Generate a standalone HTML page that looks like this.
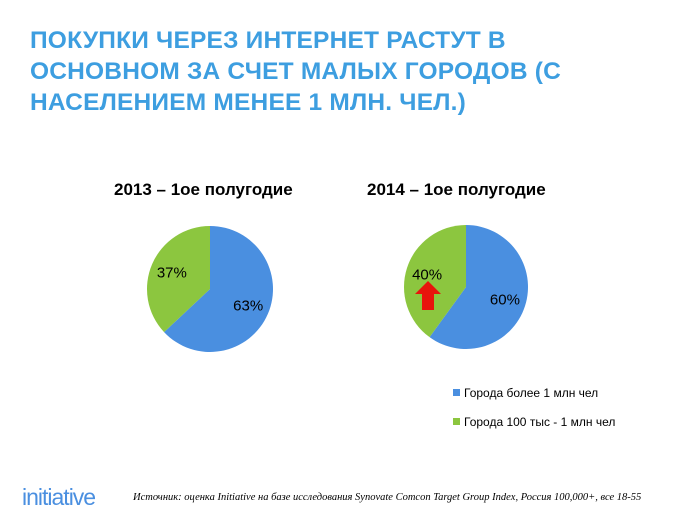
<!DOCTYPE html>
<html><head><meta charset="utf-8"><style>
body{margin:0;width:678px;height:519px;background:#fff;overflow:hidden;position:relative;font-family:"Liberation Sans",sans-serif}
.t{position:absolute;left:30px;top:25px;font-size:24.5px;font-weight:bold;color:#3d9ee0;line-height:31px;letter-spacing:0.2px}
.h{position:absolute;font-size:17px;font-weight:bold;color:#000}
.src{position:absolute;left:133px;top:492px;font-family:"Liberation Serif",serif;font-style:italic;font-size:10.5px;color:#000}
.logo{position:absolute;left:22px;top:484px;font-size:23px;color:#4a8fe0;letter-spacing:-1px}
</style></head><body>
<div class="t">ПОКУПКИ ЧЕРЕЗ ИНТЕРНЕТ РАСТУТ В<br>ОСНОВНОМ ЗА СЧЕТ МАЛЫХ ГОРОДОВ (С<br>НАСЕЛЕНИЕМ МЕНЕЕ 1 МЛН. ЧЕЛ.)</div>
<div class="h" style="left:114px;top:180px">2013 – 1ое полугодие</div>
<div class="h" style="left:367px;top:180px">2014 – 1ое полугодие</div>
<svg id="s" width="678" height="519" style="position:absolute;left:0;top:0"></svg>
<div class="logo">initiative</div>
<div class="src">Источник: оценка Initiative на базе исследования Synovate Comcon Target Group Index, Россия 100,000+, все 18-55</div>
<script>
const categories=["Города более 1 млн чел","Города 100 тыс - 1 млн чел"];
const values2013=[63,37];
const values2014=[60,40];
const colors=["#4a8fe0","#8cc63f"];
const svg=document.getElementById('s');
const NS="http://www.w3.org/2000/svg";
function pie(cx,cy,r,vals,name){
  const tot=vals.reduce((a,b)=>a+b,0);let a0=0;
  vals.forEach((v,i)=>{
    const a1=a0+v/tot*2*Math.PI;
    const p=document.createElementNS(NS,'path');
    const x0=cx+r*Math.sin(a0),y0=cy-r*Math.cos(a0),x1=cx+r*Math.sin(a1),y1=cy-r*Math.cos(a1);
    p.setAttribute('d',`M${cx},${cy}L${x0},${y0}A${r},${r} 0 ${a1-a0>Math.PI?1:0} 1 ${x1},${y1}Z`);
    p.setAttribute('fill',colors[i]);
    
    
    svg.appendChild(p);
    const am=(a0+a1)/2,lr=r*0.66;
    const t=document.createElementNS(NS,'text');
    t.setAttribute('x',cx+lr*Math.sin(am));t.setAttribute('y',cy-lr*Math.cos(am)+5);
    t.setAttribute('text-anchor','middle');t.setAttribute('font-size','15');
    t.setAttribute('font-family','Liberation Sans, sans-serif');
    t.textContent=v+'%';
    
    
    svg.appendChild(t);
    a0=a1;
  });
}
pie(210,289,63,values2013,'2013');
pie(466,287,62,values2014,'2014');
const ar=document.createElementNS(NS,'path');
ar.setAttribute('d','M428,281 L441,294 L434,294 L434,310 L422,310 L422,294 L415,294 Z');
ar.setAttribute('fill','#e8140c');


svg.appendChild(ar);
categories.forEach((c,i)=>{
  const y=393+i*29;
  const r=document.createElementNS(NS,'rect');
  r.setAttribute('x',453);r.setAttribute('y',y-4);r.setAttribute('width',7);r.setAttribute('height',7);r.setAttribute('fill',colors[i]);
  
  
  svg.appendChild(r);
  const t=document.createElementNS(NS,'text');
  t.setAttribute('x',464);t.setAttribute('y',y+4);t.setAttribute('font-size','12');
  t.setAttribute('font-family','Liberation Sans, sans-serif');
  t.textContent=c;
  
  
  svg.appendChild(t);
});
</script>
</body></html>
